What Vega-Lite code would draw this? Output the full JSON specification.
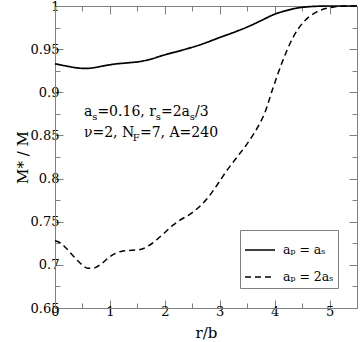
{
  "$schema": "https://vega.github.io/schema/vega-lite/v6.json",
  "width": 302,
  "height": 302,
  "autosize": "none",
  "padding": {"left": 55, "top": 6, "right": 3, "bottom": 34},
  "background": "white",
  "config": {
    "view": {"stroke": null},
    "font": "DejaVu Serif",
    "axis": {
      "domainColor": "#808080",
      "domainWidth": 1,
      "tickColor": "#808080",
      "tickWidth": 1,
      "labelFont": "DejaVu Serif",
      "labelFontSize": 13,
      "labelColor": "black",
      "titleFont": "DejaVu Serif",
      "titleFontSize": 15,
      "titleFontWeight": "normal",
      "titleColor": "black",
      "grid": false,
      "labelFlush": false,
      "labelOverlap": false
    },
    "legend": {
      "orient": "none",
      "legendX": 185,
      "legendY": 224,
      "strokeColor": "#808080",
      "fillColor": "white",
      "padding": 4,
      "symbolType": "stroke",
      "symbolSize": 900,
      "symbolStrokeWidth": 1.5,
      "symbolStrokeColor": "black",
      "labelFont": "DejaVu Serif",
      "labelFontSize": 12.5,
      "labelColor": "black",
      "labelOffset": 7,
      "rowPadding": 4,
      "title": null
    }
  },
  "datasets": {
    "curves": [
      {"r": 0.0, "m": 0.933, "series": "aₚ = aₛ"},
      {"r": 0.2, "m": 0.9305, "series": "aₚ = aₛ"},
      {"r": 0.4, "m": 0.9283, "series": "aₚ = aₛ"},
      {"r": 0.55, "m": 0.9276, "series": "aₚ = aₛ"},
      {"r": 0.7, "m": 0.9284, "series": "aₚ = aₛ"},
      {"r": 0.9, "m": 0.9308, "series": "aₚ = aₛ"},
      {"r": 1.1, "m": 0.9328, "series": "aₚ = aₛ"},
      {"r": 1.3, "m": 0.934, "series": "aₚ = aₛ"},
      {"r": 1.55, "m": 0.9357, "series": "aₚ = aₛ"},
      {"r": 1.75, "m": 0.9385, "series": "aₚ = aₛ"},
      {"r": 1.95, "m": 0.9425, "series": "aₚ = aₛ"},
      {"r": 2.27, "m": 0.948, "series": "aₚ = aₛ"},
      {"r": 2.64, "m": 0.955, "series": "aₚ = aₛ"},
      {"r": 3.0, "m": 0.9635, "series": "aₚ = aₛ"},
      {"r": 3.3, "m": 0.9705, "series": "aₚ = aₛ"},
      {"r": 3.55, "m": 0.977, "series": "aₚ = aₛ"},
      {"r": 3.75, "m": 0.983, "series": "aₚ = aₛ"},
      {"r": 4.0, "m": 0.9905, "series": "aₚ = aₛ"},
      {"r": 4.2, "m": 0.9945, "series": "aₚ = aₛ"},
      {"r": 4.4, "m": 0.9975, "series": "aₚ = aₛ"},
      {"r": 4.65, "m": 0.9993, "series": "aₚ = aₛ"},
      {"r": 5.0, "m": 1.0, "series": "aₚ = aₛ"},
      {"r": 5.5, "m": 1.0, "series": "aₚ = aₛ"},
      {"r": 0.0, "m": 0.728, "series": "aₚ = 2aₛ"},
      {"r": 0.1, "m": 0.7255, "series": "aₚ = 2aₛ"},
      {"r": 0.2, "m": 0.7195, "series": "aₚ = 2aₛ"},
      {"r": 0.35, "m": 0.709, "series": "aₚ = 2aₛ"},
      {"r": 0.45, "m": 0.7025, "series": "aₚ = 2aₛ"},
      {"r": 0.6, "m": 0.696, "series": "aₚ = 2aₛ"},
      {"r": 0.72, "m": 0.6965, "series": "aₚ = 2aₛ"},
      {"r": 0.85, "m": 0.7015, "series": "aₚ = 2aₛ"},
      {"r": 1.0, "m": 0.7095, "series": "aₚ = 2aₛ"},
      {"r": 1.2, "m": 0.7155, "series": "aₚ = 2aₛ"},
      {"r": 1.4, "m": 0.717, "series": "aₚ = 2aₛ"},
      {"r": 1.55, "m": 0.7178, "series": "aₚ = 2aₛ"},
      {"r": 1.7, "m": 0.722, "series": "aₚ = 2aₛ"},
      {"r": 1.85, "m": 0.729, "series": "aₚ = 2aₛ"},
      {"r": 2.0, "m": 0.7375, "series": "aₚ = 2aₛ"},
      {"r": 2.15, "m": 0.746, "series": "aₚ = 2aₛ"},
      {"r": 2.27, "m": 0.7515, "series": "aₚ = 2aₛ"},
      {"r": 2.5, "m": 0.7605, "series": "aₚ = 2aₛ"},
      {"r": 2.76, "m": 0.776, "series": "aₚ = 2aₛ"},
      {"r": 3.0, "m": 0.797, "series": "aₚ = 2aₛ"},
      {"r": 3.12, "m": 0.8085, "series": "aₚ = 2aₛ"},
      {"r": 3.3, "m": 0.8235, "series": "aₚ = 2aₛ"},
      {"r": 3.55, "m": 0.845, "series": "aₚ = 2aₛ"},
      {"r": 3.7, "m": 0.8605, "series": "aₚ = 2aₛ"},
      {"r": 3.82, "m": 0.876, "series": "aₚ = 2aₛ"},
      {"r": 3.97, "m": 0.905, "series": "aₚ = 2aₛ"},
      {"r": 4.15, "m": 0.937, "series": "aₚ = 2aₛ"},
      {"r": 4.33, "m": 0.963, "series": "aₚ = 2aₛ"},
      {"r": 4.52, "m": 0.981, "series": "aₚ = 2aₛ"},
      {"r": 4.76, "m": 0.993, "series": "aₚ = 2aₛ"},
      {"r": 5.0, "m": 0.998, "series": "aₚ = 2aₛ"},
      {"r": 5.2, "m": 0.9998, "series": "aₚ = 2aₛ"},
      {"r": 5.5, "m": 1.0, "series": "aₚ = 2aₛ"}
    ],
    "notes": [
      {"x": 0.527, "y": 0.873, "t": "a", "role": "main"},
      {"x": 0.679, "y": 0.873, "t": "s", "role": "sub"},
      {"x": 0.772, "y": 0.873, "t": "=0.16, r", "role": "main"},
      {"x": 1.836, "y": 0.873, "t": "s", "role": "sub"},
      {"x": 1.929, "y": 0.873, "t": "=2a", "role": "main"},
      {"x": 2.456, "y": 0.873, "t": "s", "role": "sub"},
      {"x": 2.549, "y": 0.873, "t": "/3", "role": "main"},
      {"x": 0.527, "y": 0.8476, "t": "ν=2, N", "role": "main"},
      {"x": 1.416, "y": 0.8476, "t": "F", "role": "sub"},
      {"x": 1.547, "y": 0.8476, "t": "=7, A=240", "role": "main"}
    ]
  },
  "layer": [
    {
      "data": {"name": "curves"},
      "transform": [{"filter": "datum.series === 'aₚ = aₛ'"}],
      "mark": {"type": "line", "color": "black", "strokeWidth": 1.7, "interpolate": "monotone"},
      "encoding": {
        "x": {"field": "r", "type": "quantitative",
              "scale": {"domain": [0, 5.5], "nice": false, "zero": false},
              "axis": {"orient": "bottom", "values": [0, 1, 2, 3, 4, 5], "tickSize": -8, "labelPadding": 5, "title": "r/b", "titlePadding": 7, "format": "~g"}},
        "y": {"field": "m", "type": "quantitative",
              "scale": {"domain": [0.65, 1], "nice": false, "zero": false},
              "axis": {"orient": "left", "values": [0.65, 0.7, 0.75, 0.8, 0.85, 0.9, 0.95, 1], "tickSize": -8, "labelPadding": 4, "title": "M* / M", "titlePadding": 0, "format": "~g"}},
        "strokeDash": {"field": "series", "type": "nominal",
              "scale": {"domain": ["aₚ = aₛ", "aₚ = 2aₛ"], "range": [[1, 0], [6, 4]]}}
      }
    },
    {
      "data": {"name": "curves"},
      "transform": [{"filter": "datum.series === 'aₚ = 2aₛ'"}],
      "mark": {"type": "line", "color": "black", "strokeWidth": 1.5, "interpolate": "monotone"},
      "encoding": {
        "x": {"field": "r", "type": "quantitative",
              "scale": {"domain": [0, 5.5], "nice": false, "zero": false},
              "axis": {"orient": "bottom", "values": [0.5, 1.5, 2.5, 3.5, 4.5], "tickSize": -5, "labels": false, "domain": false, "title": null}},
        "y": {"field": "m", "type": "quantitative",
              "scale": {"domain": [0.65, 1], "nice": false, "zero": false},
              "axis": {"orient": "left", "values": [0.675, 0.725, 0.775, 0.825, 0.875, 0.925, 0.975], "tickSize": -5, "labels": false, "domain": false, "title": null}},
        "strokeDash": {"field": "series", "type": "nominal",
              "scale": {"domain": ["aₚ = aₛ", "aₚ = 2aₛ"], "range": [[1, 0], [6, 4]]}}
      }
    },
    {
      "data": {"name": "notes"},
      "transform": [{"filter": "datum.role === 'main'"}],
      "mark": {"type": "text", "align": "left", "baseline": "alphabetic", "font": "DejaVu Serif", "fontSize": 14, "color": "black"},
      "encoding": {
        "x": {"field": "x", "type": "quantitative",
              "scale": {"domain": [0, 5.5], "nice": false, "zero": false},
              "axis": {"orient": "top", "values": [0, 1, 2, 3, 4, 5], "tickSize": -8, "labels": false, "title": null}},
        "y": {"field": "y", "type": "quantitative",
              "scale": {"domain": [0.65, 1], "nice": false, "zero": false},
              "axis": {"orient": "right", "values": [0.65, 0.7, 0.75, 0.8, 0.85, 0.9, 0.95, 1], "tickSize": -8, "labels": false, "title": null}},
        "text": {"field": "t", "type": "nominal"}
      }
    },
    {
      "data": {"name": "notes"},
      "transform": [{"filter": "datum.role === 'sub'"}],
      "mark": {"type": "text", "align": "left", "baseline": "alphabetic", "font": "DejaVu Serif", "fontSize": 10, "dy": 4, "color": "black"},
      "encoding": {
        "x": {"field": "x", "type": "quantitative",
              "scale": {"domain": [0, 5.5], "nice": false, "zero": false},
              "axis": {"orient": "top", "values": [0.5, 1.5, 2.5, 3.5, 4.5], "tickSize": -5, "labels": false, "domain": false, "title": null}},
        "y": {"field": "y", "type": "quantitative",
              "scale": {"domain": [0.65, 1], "nice": false, "zero": false},
              "axis": {"orient": "right", "values": [0.675, 0.725, 0.775, 0.825, 0.875, 0.925, 0.975], "tickSize": -5, "labels": false, "domain": false, "title": null}},
        "text": {"field": "t", "type": "nominal"}
      }
    }
  ],
  "resolve": {"axis": {"x": "independent", "y": "independent"}}
}
